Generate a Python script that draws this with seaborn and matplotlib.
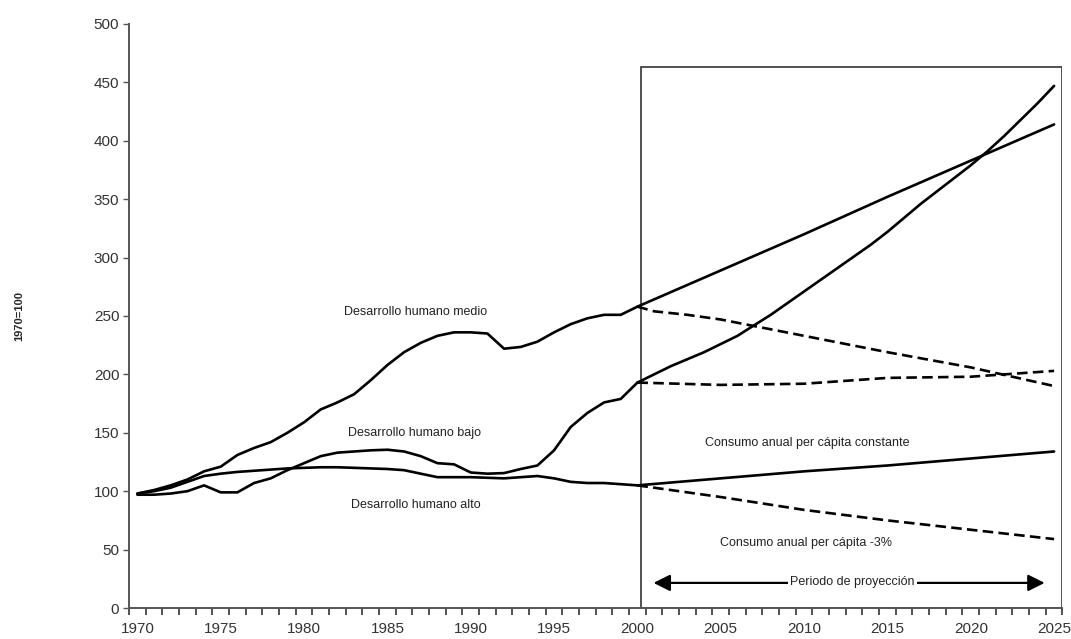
import numpy as np
import pandas as pd
import seaborn as sns
import matplotlib.pyplot as plt
from matplotlib.patches import Rectangle

# historical series (1970=100)
years_hist = list(range(1970, 2001))
medio_hist = [98, 101, 105, 110, 117, 121, 131, 137, 142, 150, 159, 170, 176, 183, 195, 208,
              219, 227, 233, 236, 236, 235, 222, 223.5, 228, 236, 243, 248, 251, 251, 258]
bajo_hist = [97, 97, 98, 100, 105, 99, 99, 107, 111, 118, 124, 130, 133, 134, 135, 135.5,
             134, 130, 124, 123, 116, 115, 115.5, 119, 122, 135, 155, 167, 176, 179, 193]
alto_hist = [98, 100, 103, 108, 113, 115, 116.5, 117.5, 118.5, 119.5, 120, 120.5, 120.5, 120, 119.5, 119,
             118, 115, 112, 112, 112, 111.5, 111, 112, 113, 111, 108, 107, 107, 106, 105]

# projections 2000-2025
years_proj = [2000, 2005, 2010, 2015, 2020, 2025]
medio_const = [258, 289, 320, 352, 383, 414]
alto_const = [105, 111, 117, 122, 128, 134]
alto_menos3 = [105, 95, 84, 75, 67, 59]
bajo_menos3 = [193, 191, 192, 197, 198, 203]

years_medio_m3 = [2000, 2001, 2003, 2005, 2010, 2015, 2020, 2025]
medio_menos3 = [258, 254, 251, 247, 233, 219, 206, 190]

years_bajo_c = list(range(2000, 2026))
bajo_const = [193, 200, 207, 213, 219, 226, 233, 242, 251, 261, 271, 281, 291, 301, 311, 322,
              334, 346, 357, 368, 379, 391, 404, 418, 432, 447]

xticks = list(range(1970, 2026, 5))
yticks = list(range(0, 501, 50))

sns.set_style("white")
plt.rcParams['font.family'] = ['Liberation Sans', 'DejaVu Sans']

fig = plt.figure(figsize=(10.71, 6.39), dpi=100)
ax = fig.add_axes([0.1205, 0.0485, 0.8715, 0.914])

lw = 1.9
for x, y in [(years_hist, medio_hist), (years_hist, bajo_hist), (years_hist, alto_hist),
             (years_proj, medio_const), (years_bajo_c, bajo_const), (years_proj, alto_const)]:
    sns.lineplot(x=x, y=y, ax=ax, color="black", linewidth=lw)

for x, y in [(years_medio_m3, medio_menos3), (years_proj, bajo_menos3), (years_proj, alto_menos3)]:
    sns.lineplot(x=x, y=y, ax=ax, color="black", linewidth=lw, linestyle=(0, (4, 2)))

# projection box
ax.add_patch(Rectangle((2000.2, 0), 25.25, 463, fill=False, edgecolor="#333333", linewidth=1.2, zorder=1))

txt = dict(fontsize=9, color="#222222", ha="center", va="center")
ax.text(1986.7, 253, "Desarrollo humano medio", **txt)
ax.text(1986.6, 150, "Desarrollo humano bajo", **txt)
ax.text(1986.7, 88, "Desarrollo humano alto", **txt)
ax.text(2010.2, 141, "Consumo anual per cápita constante", **txt)
ax.text(2010.1, 56, "Consumo anual per cápita -3%", **txt)

ax.annotate("", xy=(2000.8, 21.5), xytext=(2024.6, 21.5),
            arrowprops=dict(arrowstyle="<|-|>,head_length=0.5,head_width=0.25", color="black",
                            lw=1.6, mutation_scale=20))
ax.text(2012.9, 22, "Periodo de proyección", fontsize=9, color="#222222", ha="center", va="center",
        bbox=dict(facecolor="white", edgecolor="none", pad=1.5))

ax.set_xlim(1969.5, 2025.5)
ax.set_ylim(0, 500)
ax.set_xticks(xticks)
ax.set_xticklabels([str(t) for t in xticks])
ax.set_xticks(np.arange(1969.5, 2026, 1), minor=True)
ax.set_yticks(yticks)
ax.tick_params(axis="x", which="major", length=0, pad=10, labelsize=11, labelcolor="#333333")
ax.tick_params(axis="x", which="minor", length=5, width=1.2, direction="out", color="#333333", bottom=True)
ax.tick_params(axis="y", length=4, width=1, direction="out", color="#555555", left=True,
               labelsize=11, labelcolor="#333333", pad=3)

sns.despine(ax=ax)
for s in ["left", "bottom"]:
    ax.spines[s].set_color("#555555")
    ax.spines[s].set_linewidth(1.4)

ax.set_ylabel("1970=100", fontsize=8, fontweight="bold", labelpad=50)
ax.set_xlabel("")

fig.savefig("out.png", dpi=100)
